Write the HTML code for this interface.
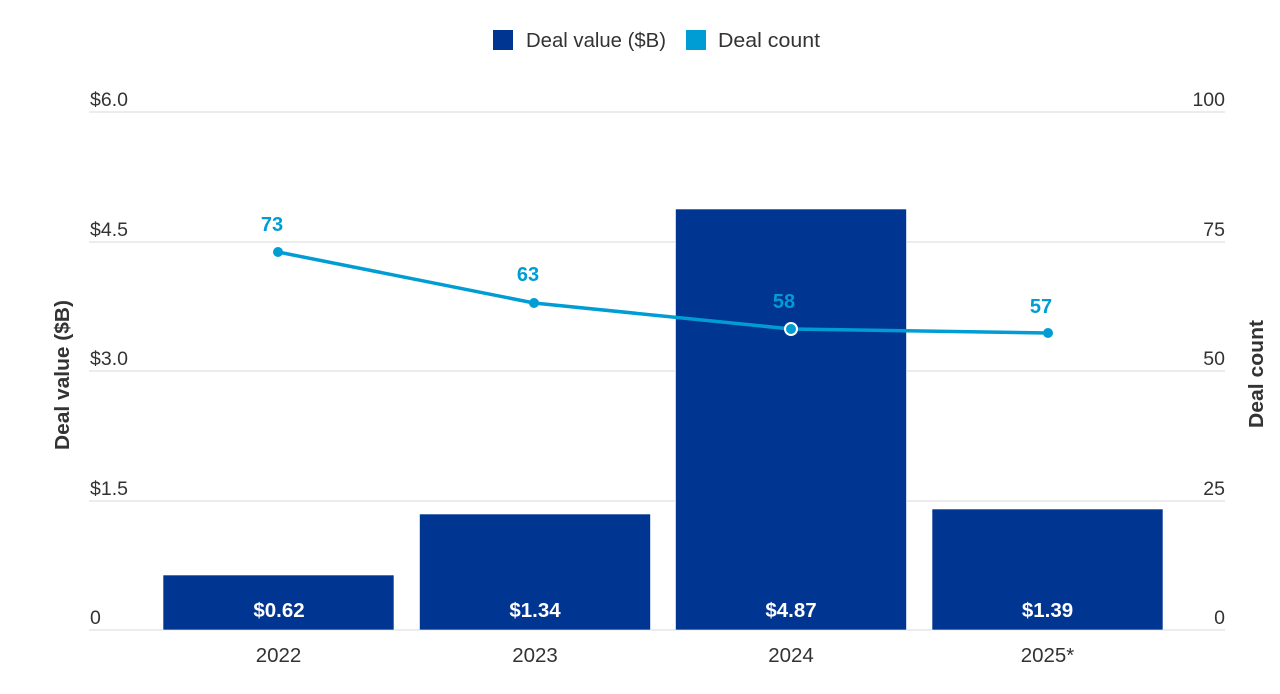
<!DOCTYPE html>
<html>
<head>
<meta charset="utf-8">
<style>
  html, body { margin:0; padding:0; background:#ffffff; }
  svg { display:block; }
  text { font-family: "Liberation Sans", "DejaVu Sans", sans-serif; }
</style>
</head>
<body>
<svg width="1280" height="694" viewBox="0 0 1280 694" xmlns="http://www.w3.org/2000/svg">
  <rect x="0" y="0" width="1280" height="694" fill="#ffffff"/>

  <!-- Legend -->
  <rect x="493" y="30" width="20" height="20" fill="#003591"/>
  <text x="526" y="47" font-size="20" fill="#333333" textLength="140" lengthAdjust="spacingAndGlyphs">Deal value ($B)</text>
  <rect x="686" y="30" width="20" height="20" fill="#009CD4"/>
  <text x="718" y="47" font-size="20" fill="#333333" textLength="102" lengthAdjust="spacingAndGlyphs">Deal count</text>

  <!-- Gridlines -->
  <g stroke="#e6e6e6" stroke-width="1.5">
    <line x1="89" y1="112" x2="1225" y2="112"/>
    <line x1="89" y1="242" x2="1225" y2="242"/>
    <line x1="89" y1="371" x2="1225" y2="371"/>
    <line x1="89" y1="501" x2="1225" y2="501"/>
    <line x1="89" y1="630" x2="1225" y2="630"/>
  </g>

  <!-- Left tick labels -->
  <g font-size="19.5" fill="#333333">
    <text x="90" y="106">$6.0</text>
    <text x="90" y="236">$4.5</text>
    <text x="90" y="365">$3.0</text>
    <text x="90" y="495">$1.5</text>
    <text x="90" y="624">0</text>
  </g>
  <!-- Right tick labels -->
  <g font-size="19.5" fill="#333333" text-anchor="end">
    <text x="1225" y="106">100</text>
    <text x="1225" y="236">75</text>
    <text x="1225" y="365">50</text>
    <text x="1225" y="495">25</text>
    <text x="1225" y="624">0</text>
  </g>

  <!-- Axis titles -->
  <text transform="translate(69,375) rotate(-90)" text-anchor="middle" font-size="20.5" font-weight="bold" fill="#333333" textLength="150" lengthAdjust="spacingAndGlyphs">Deal value ($B)</text>
  <text transform="translate(1263,374) rotate(-90)" text-anchor="middle" font-size="20.5" font-weight="bold" fill="#333333" textLength="108" lengthAdjust="spacingAndGlyphs">Deal count</text>

  <!-- Bars -->
  <g fill="#003591" stroke="#ffffff" stroke-width="0.6">
    <rect x="163" y="575" width="231" height="55"/>
    <rect x="419.5" y="514" width="231" height="116"/>
    <rect x="675.5" y="209" width="231" height="421"/>
    <rect x="932" y="509" width="231" height="121"/>
  </g>

  <!-- Bar value labels -->
  <g font-size="20.5" font-weight="bold" fill="#ffffff" text-anchor="middle">
    <text x="279" y="617">$0.62</text>
    <text x="535" y="617">$1.34</text>
    <text x="791" y="617">$4.87</text>
    <text x="1047.5" y="617">$1.39</text>
  </g>

  <!-- Year labels -->
  <g font-size="20.5" fill="#333333" text-anchor="middle">
    <text x="278.5" y="662">2022</text>
    <text x="535" y="662">2023</text>
    <text x="791" y="662">2024</text>
    <text x="1047.5" y="662">2025*</text>
  </g>

  <!-- Line series -->
  <polyline points="278,252 534,303 791,329 1048,333" fill="none" stroke="#009CD4" stroke-width="3.5" stroke-linejoin="round" stroke-linecap="round"/>
  <circle cx="278" cy="252" r="5" fill="#009CD4"/>
  <circle cx="534" cy="303" r="5" fill="#009CD4"/>
  <circle cx="791" cy="329" r="6" fill="#009CD4" stroke="#ffffff" stroke-width="2"/>
  <circle cx="1048" cy="333" r="5" fill="#009CD4"/>

  <!-- Line labels -->
  <g font-size="20" font-weight="bold" fill="#009CD4" text-anchor="middle">
    <text x="272" y="231">73</text>
    <text x="528" y="281">63</text>
    <text x="784" y="308">58</text>
    <text x="1041" y="313">57</text>
  </g>
</svg>
</body>
</html>
